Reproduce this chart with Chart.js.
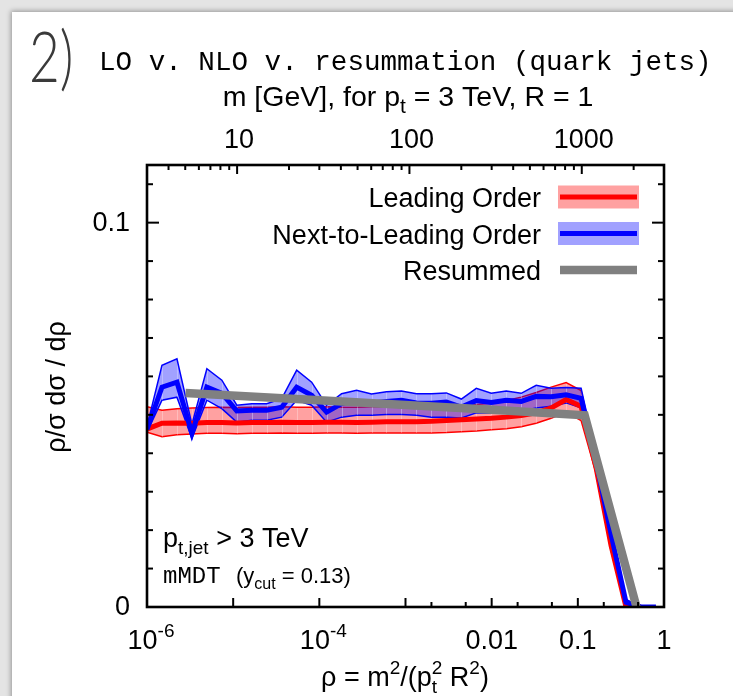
<!DOCTYPE html>
<html>
<head>
<meta charset="utf-8">
<title>LO v. NLO v. resummation (quark jets)</title>
<script src="https://cdn.jsdelivr.net/npm/chart.js"></script>
<style>
  * { margin: 0; padding: 0; box-sizing: border-box; }
  html, body { width: 733px; height: 696px; overflow: hidden; }
  body { background: #e4e4e4; position: relative; }
  .slide { position: absolute; left: 12px; top: 12px; width: 740px; height: 700px; background: #fff; box-shadow: -1px -1px 5px rgba(0,0,0,0.35); }
  canvas { position: absolute; left: 0; top: 0; }
</style>
</head>
<body>
<div class="slide"></div>
<canvas id="chart" width="733" height="696"></canvas>
<script>
// rho = m^2/(pt^2 R^2), bins
const rho = [1.000e-6, 1.492e-6, 2.226e-6, 3.320e-6, 4.953e-6, 7.389e-6, 1.102e-5, 1.644e-5, 2.453e-5, 3.660e-5,
  5.460e-5, 8.145e-5, 1.215e-4, 1.813e-4, 2.705e-4, 4.034e-4, 6.018e-4, 8.979e-4, 1.340e-3, 1.998e-3,
  2.981e-3, 4.447e-3, 6.634e-3, 9.897e-3, 1.477e-2, 2.203e-2, 3.286e-2, 4.903e-2, 7.314e-2, 0.1091,
  0.1628, 0.2428, 0.3623, 0.5405, 0.8063];

const loCentral = [0.0463, 0.0478, 0.0479, 0.0478, 0.0480, 0.0480, 0.0479, 0.0480, 0.0480, 0.0481,
  0.0480, 0.0480, 0.0481, 0.0481, 0.0480, 0.0481, 0.0482, 0.0482, 0.0482, 0.0483,
  0.0485, 0.0487, 0.0489, 0.0491, 0.0494, 0.0498, 0.0505, 0.0518, 0.0540, 0.0522,
  0.0362, 0.0160, 0, 0];
const loUpper = [0.0521, 0.0512, 0.0516, 0.0518, 0.0519, 0.0520, 0.0519, 0.0520, 0.0520, 0.0521,
  0.0520, 0.0520, 0.0521, 0.0520, 0.0520, 0.0521, 0.0521, 0.0521, 0.0521, 0.0521,
  0.0522, 0.0524, 0.0527, 0.0531, 0.0537, 0.0546, 0.0558, 0.0572, 0.0584, 0.0563,
  0.0376, 0.0174, 0, 0];
const loLower = [0.0455, 0.0443, 0.0448, 0.0450, 0.0452, 0.0452, 0.0451, 0.0452, 0.0452, 0.0453,
  0.0452, 0.0452, 0.0453, 0.0453, 0.0452, 0.0453, 0.0453, 0.0453, 0.0453, 0.0453,
  0.0454, 0.0456, 0.0458, 0.0461, 0.0464, 0.0469, 0.0478, 0.0491, 0.0507, 0.0485,
  0.0348, 0.0147, 0, 0];

const nloCentral = [0.0462, 0.0572, 0.0585, 0.0452, 0.0572, 0.0556, 0.0510, 0.0512, 0.0512, 0.0520,
  0.0572, 0.0551, 0.0507, 0.0529, 0.0535, 0.0531, 0.0535, 0.0538, 0.0531, 0.0530,
  0.0533, 0.0520, 0.0537, 0.0532, 0.0538, 0.0535, 0.0548, 0.0547, 0.0552, 0.0543,
  0.0380, 0.0190, 0.0012, 0, 0];
const nloUpper = [0.0470, 0.0629, 0.0646, 0.0475, 0.0620, 0.0590, 0.0525, 0.0529, 0.0529, 0.0542,
  0.0616, 0.0585, 0.0525, 0.0555, 0.0564, 0.0554, 0.0560, 0.0562, 0.0555, 0.0555,
  0.0557, 0.0541, 0.0569, 0.0556, 0.0562, 0.0556, 0.0577, 0.0569, 0.0571, 0.0569,
  0.0395, 0.0205, 0.0020, 0, 0];
const nloLower = [0.0455, 0.0538, 0.0546, 0.0439, 0.0538, 0.0516, 0.0481, 0.0486, 0.0486, 0.0494,
  0.0538, 0.0525, 0.0481, 0.0494, 0.0499, 0.0499, 0.0501, 0.0501, 0.0499, 0.0494,
  0.0494, 0.0492, 0.0505, 0.0505, 0.0510, 0.0510, 0.0518, 0.0522, 0.0531, 0.0518,
  0.0365, 0.0176, 0.0005, 0, 0];

const resRho = [2.8e-6, 1e-4, 1e-2, 0.12, 0.48];
const resVal = [0.0557, 0.0538, 0.0513, 0.0499, 0];

// axes
const rhoMajor = [1e-6, 1e-5, 1e-4, 1e-3, 1e-2, 1e-1, 1];
const rhoMinor = [2e-3, 5e-3, 2e-2, 5e-2, 0.2, 0.5];
const rhoLabels = [[1e-6, '10', '-6'], [1e-4, '10', '-4'], [0.01, '0.01'], [0.1, '0.1'], [1, '1']];
const massTicks = [4, 5, 6, 7, 8, 9, 20, 30, 40, 50, 60, 70, 80, 90, 200, 300, 400, 500, 600, 700, 800, 900, 2000, 3000];
const massLabels = [10, 100, 1000];
const yMajor = [0, 0.1];
const yMinor = [0.01, 0.02, 0.03, 0.04, 0.05, 0.06, 0.07, 0.08, 0.09, 0.11];
const ptGeV = 3000, jetR = 1;
const rhoOfMass = m => Math.pow(m / (ptGeV * jetR), 2);

const SANS = '"Liberation Sans", Arial, Helvetica, sans-serif';
const MONO = '"Liberation Mono", "Courier New", monospace';
const FS = 27;

function pts(xs, ys) { return ys.map((y, i) => ({ x: xs[i], y })); }

// text with sub/superscripts: strings are normal, {sub, sup} objects are small
function rich(ctx, parts, x, y, align, size, fam) {
  fam = fam || SANS;
  const small = Math.round(size * 0.72);
  const w = p => {
    if (typeof p === 'string') { ctx.font = size + 'px ' + fam; return ctx.measureText(p).width; }
    ctx.font = small + 'px ' + SANS;
    return Math.max(p.sub ? ctx.measureText(p.sub).width : 0, p.sup ? ctx.measureText(p.sup).width : 0);
  };
  const total = parts.reduce((s, p) => s + w(p), 0);
  let cx = align === 'center' ? x - total / 2 : align === 'right' ? x - total : x;
  ctx.textAlign = 'left';
  ctx.textBaseline = 'alphabetic';
  ctx.fillStyle = '#000';
  parts.forEach(p => {
    const pw = w(p);
    if (typeof p === 'string') {
      ctx.font = size + 'px ' + fam;
      ctx.fillText(p, cx, y);
    } else {
      ctx.font = small + 'px ' + SANS;
      if (p.sub) ctx.fillText(p.sub, cx, y + size * 0.26);
      if (p.sup) ctx.fillText(p.sup, cx, y - size * 0.46);
    }
    cx += pw;
  });
}

const decor = {
  id: 'decor',
  beforeDatasetDraw(chart, args) {
    // faint seams between the filled band segments
    const pairs = { 3: 4, 5: 6 };
    const lo = pairs[args.index];
    if (lo === undefined) return;
    const up = args.meta.data, dn = chart.getDatasetMeta(lo).data;
    const ctx = chart.ctx;
    ctx.save();
    ctx.strokeStyle = 'rgba(255,255,255,0.28)';
    ctx.lineWidth = 1;
    for (let i = 1; i < up.length - 1; i++) {
      if (Math.abs(up[i].y - dn[i].y) < 2) continue;
      ctx.beginPath();
      ctx.moveTo(Math.round(up[i].x) + 0.5, up[i].y);
      ctx.lineTo(Math.round(dn[i].x) + 0.5, dn[i].y);
      ctx.stroke();
    }
    ctx.restore();
  },
  afterDatasetsDraw(chart) {
    const ctx = chart.ctx;
    const a = chart.chartArea;
    const xs = chart.scales.x, ys = chart.scales.y;
    ctx.save();
    ctx.strokeStyle = '#000';
    ctx.lineWidth = 2;
    const tick = (x1, y1, x2, y2) => { ctx.beginPath(); ctx.moveTo(x1, y1); ctx.lineTo(x2, y2); ctx.stroke(); };

    rhoMajor.forEach(v => { const px = xs.getPixelForValue(v); tick(px, a.bottom, px, a.bottom - 9); });
    rhoMinor.forEach(v => { const px = xs.getPixelForValue(v); tick(px, a.bottom, px, a.bottom - 5); });
    massLabels.forEach(m => { const px = xs.getPixelForValue(rhoOfMass(m)); tick(px, a.top, px, a.top + 9); });
    massTicks.forEach(m => { const px = xs.getPixelForValue(rhoOfMass(m)); tick(px, a.top, px, a.top + 5); });
    yMajor.forEach(v => { const py = ys.getPixelForValue(v); tick(a.left, py, a.left + 12, py); tick(a.right, py, a.right - 12, py); });
    yMinor.forEach(v => { const py = ys.getPixelForValue(v); tick(a.left, py, a.left + 6, py); tick(a.right, py, a.right - 6, py); });

    ctx.lineWidth = 2.6;
    ctx.strokeRect(a.left, a.top, a.right - a.left, a.bottom - a.top);

    // tick labels
    rhoLabels.forEach(([v, base, exp]) => {
      const parts = exp ? [base, { sup: exp }] : [base];
      rich(ctx, parts, xs.getPixelForValue(v) + (exp ? 4 : 0), a.bottom + 42, 'center', FS);
    });
    massLabels.forEach(m => rich(ctx, [String(m)], xs.getPixelForValue(rhoOfMass(m)) + 2, a.top - 17, 'center', FS));
    ctx.font = FS + 'px ' + SANS;
    ctx.textAlign = 'right';
    ctx.textBaseline = 'middle';
    yMajor.forEach(v => ctx.fillText(String(v), a.left - 17, ys.getPixelForValue(v) + 1));

    // axis titles
    rich(ctx, ['\u03c1 = m', { sup: '2' }, '/(p', { sub: 't', sup: '2' }, ' R', { sup: '2' }, ')'], 405, 686, 'center', FS);
    rich(ctx, ['m [GeV], for p', { sub: 't' }, ' = 3 TeV, R = 1'], 408, 106, 'center', 28.5);
    ctx.save();
    ctx.translate(58, 387);
    ctx.rotate(-Math.PI / 2);
    ctx.font = FS + 'px ' + SANS;
    ctx.textAlign = 'center';
    ctx.textBaseline = 'middle';
    ctx.fillText('\u03c1/\u03c3 d\u03c3 / d\u03c1', 0, 0);
    ctx.restore();

    // legend
    const legend = [
      ['Leading Order', '#ff0000', 'rgba(255,0,0,0.37)', 5],
      ['Next-to-Leading Order', '#0000ff', 'rgba(0,0,255,0.37)', 5],
      ['Resummed', '#808080', null, 8.5]
    ];
    legend.forEach(([name, col, band, lw], i) => {
      const cy = 197 + i * 36.5;
      rich(ctx, [name], 541, cy + 10, 'right', FS);
      if (band) { ctx.fillStyle = band; ctx.fillRect(558, cy - 11.5, 81, 23); }
      ctx.strokeStyle = col;
      ctx.lineWidth = lw;
      tick(560, cy, 637, cy);
    });

    // annotations
    rich(ctx, ['p', { sub: 't,jet' }, ' > 3 TeV'], 163, 547, 'left', FS);
    rich(ctx, ['mMDT'], 163, 583, 'left', 24, MONO);
    rich(ctx, ['(y', { sub: 'cut' }, ' = 0.13)'], 236, 583, 'left', 22);

    // page title
    ctx.fillStyle = '#000';
    ctx.font = '27.6px ' + MONO;
    ctx.textAlign = 'left';
    ctx.textBaseline = 'alphabetic';
    ctx.fillText('LO v. NLO v. resummation (quark jets)', 99, 70);
    ctx.save();
    ctx.translate(29, 82);
    ctx.scale(0.76, 1);
    ctx.font = '300 70px Lato, "Open Sans", sans-serif';
    ctx.fillStyle = '#3a3a3a';
    ctx.fillText('2)', 0, 0);
    ctx.restore();
    ctx.restore();
  }
};

const line = (label, xs, ys, color, width, extra) => Object.assign({
  label, data: pts(xs, ys), borderColor: color, borderWidth: width,
  pointRadius: 0, tension: 0, fill: false
}, extra || {});

new Chart(document.getElementById('chart'), {
  type: 'line',
  data: {
    datasets: [
      line('Resummed', resRho, resVal, '#808080', 8.5),
      line('Next-to-Leading Order', rho, nloCentral, '#0000ff', 5),
      line('Leading Order', rho, loCentral, '#ff0000', 5),
      line('NLO upper', rho, nloUpper, '#0000ff', 1.5, { fill: '+1', backgroundColor: 'rgba(0,0,255,0.37)' }),
      line('NLO lower', rho, nloLower, '#0000ff', 1.5),
      line('LO upper', rho, loUpper, '#ff0000', 1.5, { fill: '+1', backgroundColor: 'rgba(255,0,0,0.37)' }),
      line('LO lower', rho, loLower, '#ff0000', 1.5)
    ]
  },
  options: {
    responsive: false,
    animation: false,
    devicePixelRatio: 1,
    layout: { padding: { left: 147, right: 69, top: 165, bottom: 89 } },
    scales: {
      x: { type: 'logarithmic', min: 1e-6, max: 1, display: false },
      y: { type: 'linear', min: 0, max: 0.115, display: false }
    },
    plugins: { legend: { display: false }, tooltip: { enabled: false } }
  },
  plugins: [decor]
});
</script>
</body>
</html>
